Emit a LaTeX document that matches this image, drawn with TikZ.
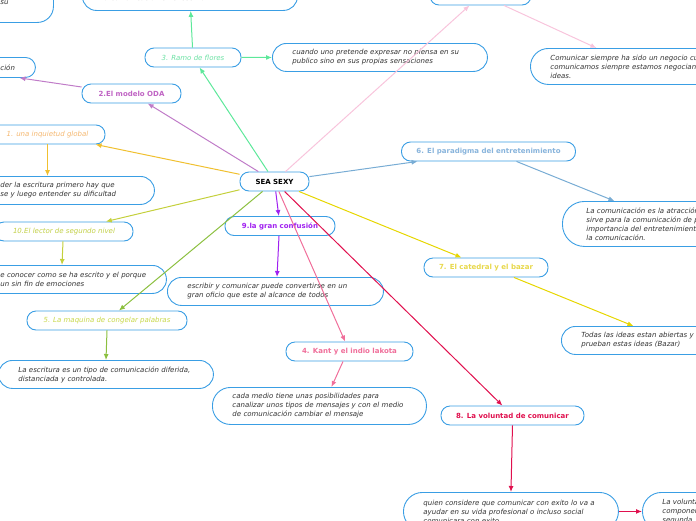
\documentclass[tikz,border=0pt]{standalone}
\usepackage{fontspec}
\setmainfont{DejaVu Sans}
\usetikzlibrary{arrows.meta}
\definecolor{boxBlue}{HTML}{3A9EE4}
\definecolor{noteGrey}{HTML}{333333}
\definecolor{ramoGreen}{HTML}{5DE89A}
\definecolor{ramoText}{HTML}{6CE2A4}
\definecolor{odaPurple}{HTML}{C07CC8}
\definecolor{odaText}{HTML}{C064C4}
\definecolor{inqOrange}{HTML}{F0C030}
\definecolor{inqText}{HTML}{F5B870}
\definecolor{lectorLime}{HTML}{C4D03C}
\definecolor{lectorText}{HTML}{C2D046}
\definecolor{maquinaGreen}{HTML}{8CC040}
\definecolor{maquinaText}{HTML}{C8D848}
\definecolor{granViolet}{HTML}{A020F0}
\definecolor{kantPink}{HTML}{F06E9A}
\definecolor{voluntadRed}{HTML}{E0104E}
\definecolor{catedralYellow}{HTML}{E6D600}
\definecolor{catedralText}{HTML}{E8D84A}
\definecolor{paradigmaBlue}{HTML}{78ACD4}
\definecolor{paradigmaText}{HTML}{88B4DC}
\definecolor{topPink}{HTML}{F8C4DC}
\newcommand{\mapFont}{\fontsize{7}{9}\selectfont}
\tikzstyle{mindmap} = [x = 1pt, y = -1pt]
\tikzstyle{topic} = [draw=boxBlue, fill=white, line width=0.9pt, rounded corners = 9pt, minimum height = 19pt, inner sep = 0pt, font=\mapFont\bfseries]
\tikzstyle{topicIt} = [topic, font=\mapFont\itshape]
\tikzstyle{note} = [draw=boxBlue, fill=white, line width=0.9pt, rounded corners = 14pt, inner xsep = 20pt, inner ysep = 0pt, align=left, anchor=north west, text=noteGrey, font=\mapFont\itshape]
\tikzstyle{branch} = [line width=1pt, -{Latex[length=6pt, width=5pt]}]
\newcommand{\noteBox}[5][]{\node [note, #1, text width = #4] (#2) at (#3) {#5};}

\begin{document}
\begin{tikzpicture}[mindmap]
          \useasboundingbox (0,0) rectangle (696,520);
          \clip (0,0) rectangle (696,520);

          % topics
          \node [topic, minimum width = 69pt] (sea) at (274.5,181.5) {SEA SEXY};
          \node [topicIt, minimum width = 96pt, text=ramoText] (ramo) at (193,57.5) {3. Ramo de flores};
          \node [topic, minimum width = 99pt, text=odaText] (oda) at (131.5,93.5) {2.El modelo ODA};
          \node [topicIt, minimum width = 115pt, text=inqText] (inquietud) at (47.5,134.5) {1. una inquietud global};
          \node [topicIt, minimum width = 138pt, text=lectorText] (lector) at (64,231.5) {10.El lector de segundo nivel};
          \node [topicIt, minimum width = 160pt, text=maquinaText] (maquina) at (107,320.5) {5. La maquina de congelar palabras};
          \node [topic, minimum width = 110pt, text=granViolet] (gran) at (280,226) {9.la gran confusión};
          \node [topic, minimum width = 127pt, text=kantPink] (kant) at (349.5,351.5) {4. Kant y el indio lakota};
          \node [topic, minimum width = 143pt, text=voluntadRed] (voluntad) at (512.5,415.5) {8. La voluntad de comunicar};
          \node [topic, minimum width = 124pt, text=catedralText] (catedral) at (486,267.5) {7. El catedral y el bazar};
          \node [topic, minimum width = 174pt, text=paradigmaText] (paradigma) at (488.5,151.5) {6. El paradigma del entretenimiento};
          \node [topic, minimum width = 101pt] (topTopic) at (480.5,-4.5) {};

          % notes
          \noteBox[minimum height = 53pt, rounded corners = 16pt]{suNote}{-20,-31}{33pt}{\mbox{}\\\mbox{}\\su}
          \noteBox[minimum height = 28pt]{topNote}{82,-18}{175pt}{\mbox{}\\la comunicación en el escritor.}
          \noteBox[minimum height = 20pt, rounded corners = 10pt]{cionNote}{-20,57}{15pt}{ción}
          \noteBox[minimum height = 28pt]{cuandoNote}{272,43}{175pt}{cuando uno pretende expresar no piensa en su\\publico sino en sus propias sensaciones}
          \noteBox[minimum height = 36pt, rounded corners = 18pt]{comunicarNote}{530,48}{220pt}{Comunicar siempre ha sido un negocio cu\\comunicamos siempre estamos negocian\\ideas.}
          \noteBox[minimum height = 28pt]{escrituraNote}{-20,176}{134pt}{der la escritura primero hay que\\se y luego entender su dificultad}
          \noteBox[minimum height = 28pt]{conocerNote}{-20,265}{146pt}{e conocer como se ha escrito y el porque\\un sin fin de emociones}
          \noteBox[minimum height = 28pt]{diferidaNote}{-2,360}{175pt}{La escritura es un tipo de comunicación diferida,\\distanciada y controlada.}
          \noteBox[minimum height = 28pt]{oficioNote}{167,277}{176pt}{escribir y comunicar puede convertirse en un\\gran oficio que este al alcance de todos}
          \noteBox[minimum height = 37pt, rounded corners = 18pt]{medioNote}{212,387}{174pt}{cada medio tiene unas posibilidades para\\canalizar unos tipos de mensajes y con el medio\\de comunicación cambiar el mensaje}
          \noteBox[minimum height = 38pt, rounded corners = 19pt]{exitoNote}{403,492}{175pt}{quien considere que comunicar con exito lo va a\\ayudar en su vida profesional o incluso social\\comunicara con exito.}
          \noteBox[minimum height = 38pt, rounded corners = 19pt]{componenteNote}{642,492}{160pt}{La volunta\\componen\\segunda}
          \noteBox[minimum height = 45pt, rounded corners = 22pt, inner xsep = 24pt]{atraccionNote}{562,201}{200pt}{La comunicación es la atracción\\sirve para la comunicación de p\\importancia del entretenimiento\\la comunicación.}
          \noteBox[minimum height = 28pt]{bazarNote}{561,326}{200pt}{Todas las ideas estan abiertas y\\prueban estas ideas (Bazar)}

          % branches
          \draw [branch, ramoGreen] (sea) -- (ramo);
          \draw [branch, ramoGreen] (ramo) -- (topNote);
          \draw [branch, ramoGreen] (ramo) -- (cuandoNote);
          \draw [branch, odaPurple] (sea) -- (oda);
          \draw [branch, odaPurple] ([yshift=6.5pt]oda.west) -- ([xshift=11.5pt]cionNote.south);
          \draw [branch, inqOrange] (sea) -- (inquietud);
          \draw [branch, inqOrange] (inquietud.south) -- (inquietud.south |- escrituraNote.north);
          \draw [branch, lectorLime] (sea) -- (lector);
          \draw [branch, lectorLime] ([xshift=-1pt]lector.south) -- ([xshift=-2pt]lector.south |- conocerNote.north);
          \draw [branch, maquinaGreen] (sea) -- (maquina);
          \draw [branch, maquinaGreen] (maquina.south) -- ([xshift=-1pt]maquina.south |- diferidaNote.north);
          \draw [branch, granViolet] (sea) -- (gran);
          \draw [branch, granViolet] ([xshift=-1pt]gran.south) -- ([xshift=-3pt]gran.south |- oficioNote.north);
          \draw [branch, kantPink] (sea) -- (kant);
          \draw [branch, kantPink] ([xshift=-6.5pt]kant.south) -- ([xshift=12pt]medioNote.north);
          \draw [branch, voluntadRed] (sea) -- (voluntad);
          \draw [branch, voluntadRed] (voluntad.south) -- (exitoNote.north);
          \draw [branch, voluntadRed] (exitoNote.east) -- (componenteNote.west);
          \draw [branch, catedralYellow] (sea) -- (catedral);
          \draw [branch, catedralYellow] ([xshift=28pt]catedral.south) -- ([xshift=-48pt]bazarNote.north);
          \draw [branch, paradigmaBlue] (sea) -- (paradigma);
          \draw [branch, paradigmaBlue] ([xshift=28pt]paradigma.south) -- ([xshift=-72pt]atraccionNote.north);
          \draw [branch, topPink] (sea) -- (topTopic);
          \draw [branch, topPink] ([xshift=23.5pt]topTopic.south) -- ([xshift=-64pt]comunicarNote.north);
        \end{tikzpicture}
\end{document}
